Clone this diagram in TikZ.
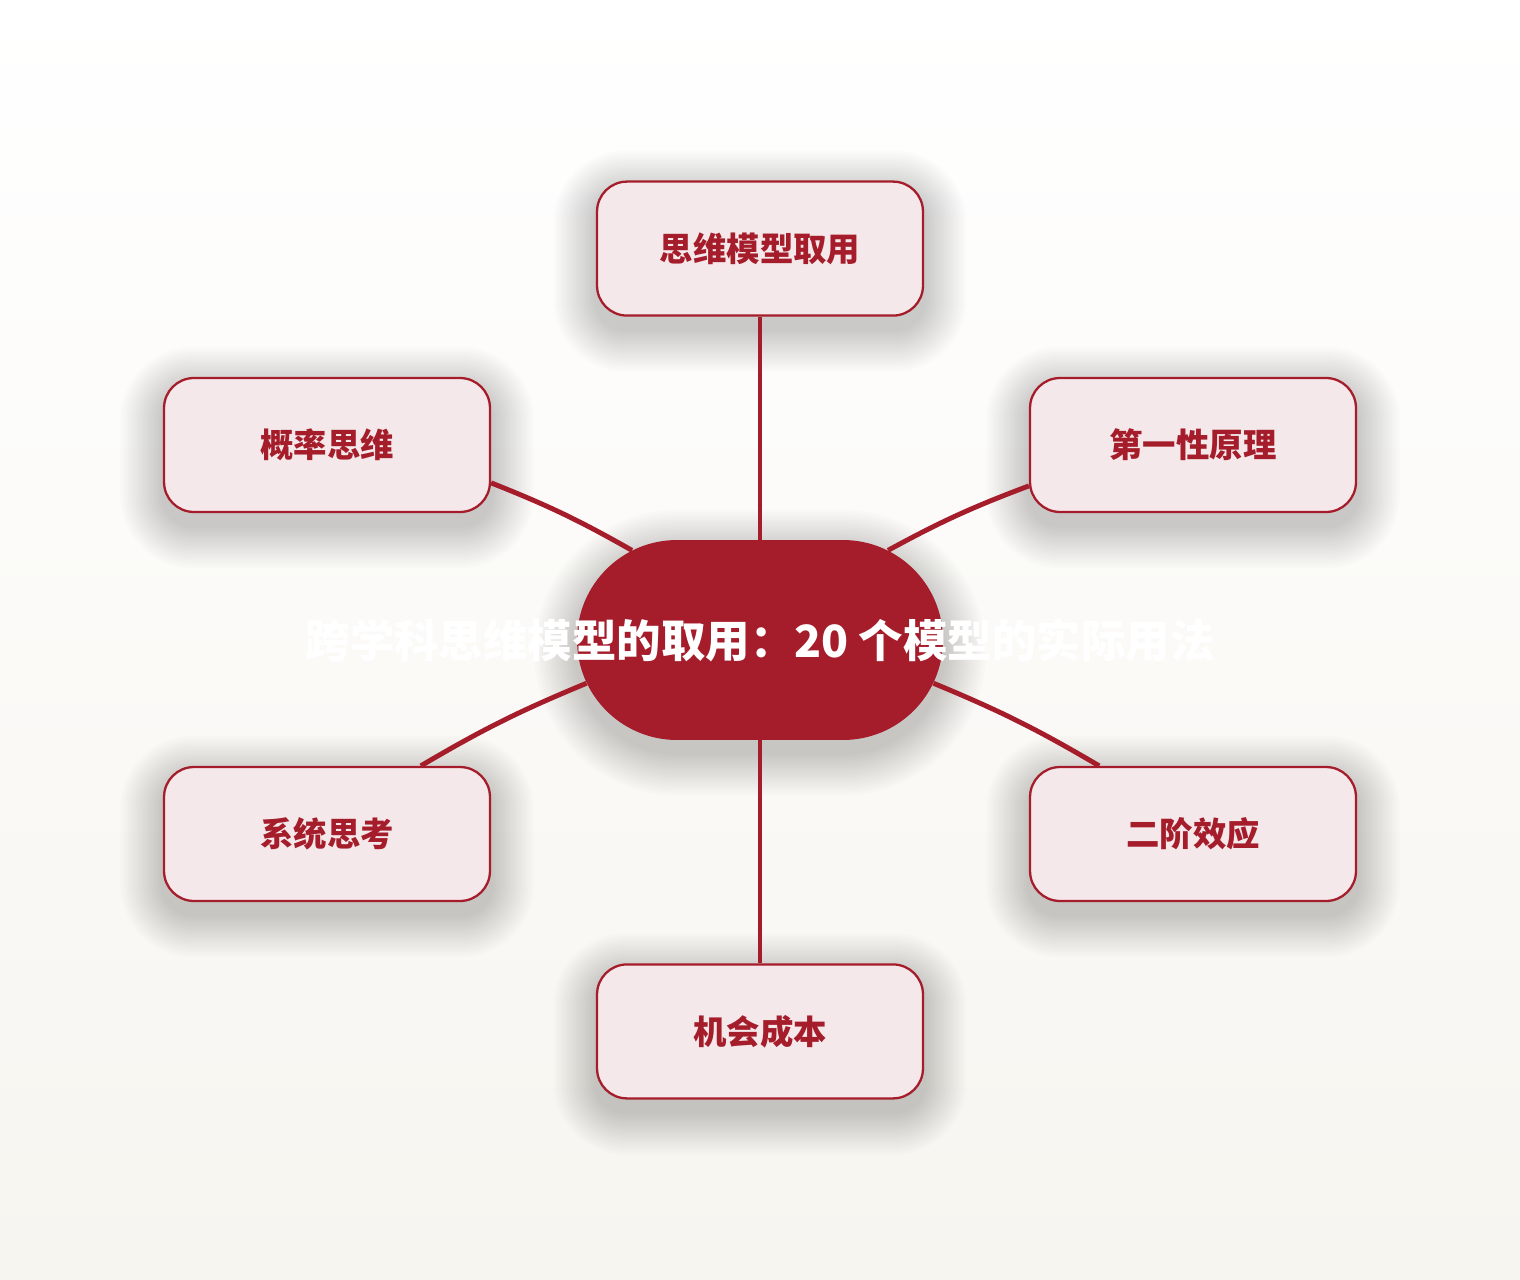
\documentclass[tikz,border=0pt]{standalone}
\usepackage{fontspec}
\newfontfamily\cjk{Noto Sans CJK SC}
\usetikzlibrary{positioning, shapes.misc}
\definecolor{deepred}{HTML}{A51C2A}
\definecolor{rosefill}{HTML}{F4E8EA}
\definecolor{paper}{HTML}{F7F5F0}
\pgfdeclarelayer{back}
\pgfsetlayers{back,main}

% soft shadow under a node: node name, corner radius (cm)
\newcommand{\haze}[2]{%
	\path (#1.west |- #1.south) coordinate (hsw) (#1.east |- #1.north) coordinate (hne);
	\foreach \r in {0.05,0.1,...,0.9}{
		\pgfmathsetmacro{\rr}{#2+\r}
		\fill[black, opacity=0.01, rounded corners=\rr cm]
			([xshift=-\r cm, yshift=-\r cm-0.25cm]hsw) rectangle ([xshift=\r cm, yshift=\r cm-0.25cm]hne);
	}}

\begin{document}
\begin{tikzpicture}[x=0.02cm, y=-0.02cm]
	\tikzset{model/.style={draw=deepred, line width=1.3pt, fill=rosefill, rounded corners=0.6cm, minimum width=6.52cm, minimum height=2.68cm, text=deepred, font=\cjk\bfseries\fontsize{19pt}{22pt}\selectfont},
		hub/.style={rounded rectangle, fill=deepred, minimum width=7.32cm, minimum height=4cm, inner sep=0pt},
		link/.style={draw=deepred, line width=2.8pt}}
	
	\begin{pgfonlayer}{back}
		\shade[top color=white, bottom color=paper] (0,0) rectangle (1520,1280);
	\end{pgfonlayer}
	\useasboundingbox (0,0) rectangle (1520,1280);
	
	\node[hub] (c) at (760,640) {};
	\node[model, above=4.46cm of c] (t) {思维模型取用};
	\node[model, below=4.46cm of c] (b) {机会成本};
	\node[model] (tl) at (327,445) {概率思维};
	\node[model] (tr) at (1193,445) {第一性原理};
	\node[model] (bl) at (327,834) {系统思考};
	\node[model] (br) at (1193,834) {二阶效应};
	
	\draw[link]
		(t.south) edge (c.north)
		(tl.-13) edge[bend left=4] (c.145)
		(tr.194) edge[bend right=4] (c.35)
		(bl.36) edge[bend left=4] (c.194)
		(br.144) edge[bend right=4] (c.-14)
		(b.north) edge (c.south);
	
	\node[text=white, font=\cjk\bfseries\fontsize{25.3pt}{30pt}\selectfont] (title) at (c) {跨学科思维模型的取用：20 个模型的实际用法};
	
	\begin{pgfonlayer}{back}
		\haze{c}{2}
		\foreach \n in {t,b,tl,tr,bl,br}
			\haze{\n}{0.6};
	\end{pgfonlayer}
\end{tikzpicture}
\end{document}
